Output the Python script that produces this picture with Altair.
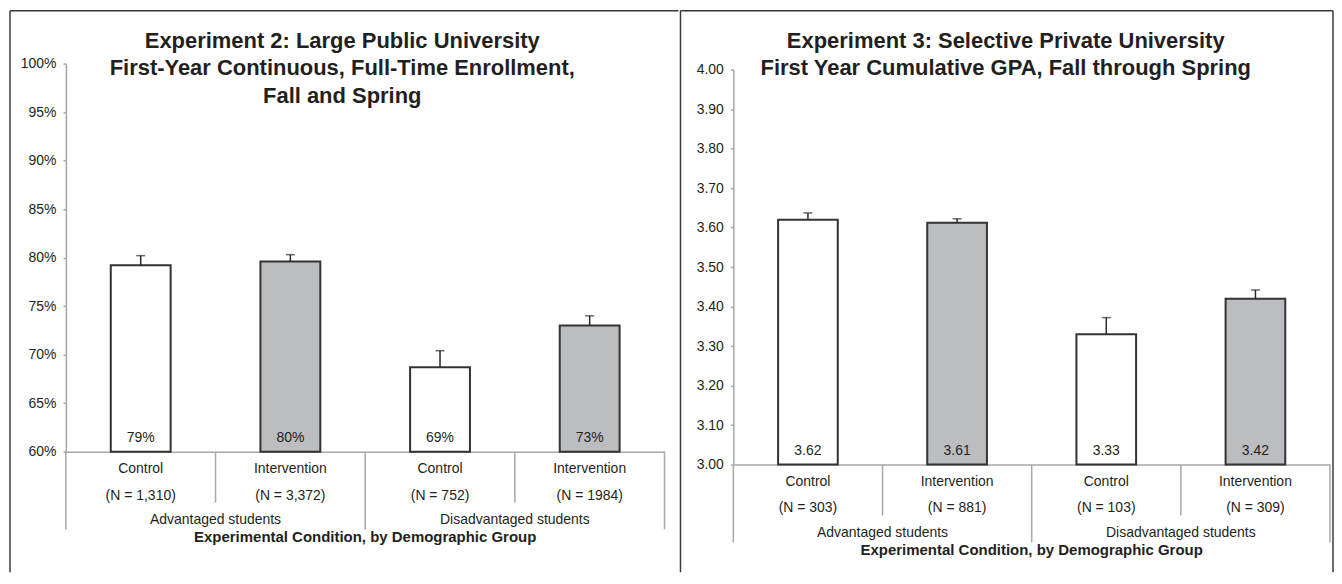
import altair as alt
import pandas as pd

FONT = "Liberation Sans"
INK = "#231f20"
GRID = "#a8a8a8"

conditions = ["Control", "Intervention", "Control", "Intervention"]
groups = ["Advantaged students", "Advantaged students",
          "Disadvantaged students", "Disadvantaged students"]
slots = ["A-Control", "A-Intervention", "D-Control", "D-Intervention"]

exp2_title = ["Experiment 2: Large Public University",
              "First-Year Continuous, Full-Time Enrollment,",
              "Fall and Spring"]
exp2_n = ["(N = 1,310)", "(N = 3,372)", "(N = 752)", "(N = 1984)"]
exp2_values = [79.2, 79.6, 68.7, 73.0]
exp2_upper = [80.2, 80.3, 70.4, 74.0]
exp2_labels = ["79%", "80%", "69%", "73%"]
exp2_ticks = [60, 65, 70, 75, 80, 85, 90, 95, 100]

exp3_title = ["Experiment 3: Selective Private University",
              "First Year Cumulative GPA, Fall through Spring"]
exp3_n = ["(N = 303)", "(N = 881)", "(N = 103)", "(N = 309)"]
exp3_values = [3.62, 3.612, 3.33, 3.42]
exp3_upper = [3.637, 3.622, 3.372, 3.442]
exp3_labels = ["3.62", "3.61", "3.33", "3.42"]
exp3_ticks = [3.0, 3.1, 3.2, 3.3, 3.4, 3.5, 3.6, 3.7, 3.8, 3.9, 4.0]

x_title = "Experimental Condition, by Demographic Group"


def panel(title_lines, values, upper, labels, ns, ticks, label_expr,
          width, height, y_top, title_dx, title_y, f_left, f_top, f_right,
          f_bottom, draw_right):
    df = pd.DataFrame({
        "slot": slots, "cond": conditions, "group": groups, "n": ns,
        "value": values, "upper": upper, "label": labels,
    })
    lo, hi = ticks[0], ticks[-1]
    xenc = alt.X("slot:N", sort=slots,
                 scale=alt.Scale(paddingInner=0, paddingOuter=0),
                 axis=alt.Axis(labels=False, ticks=False, title=None,
                               domainColor=GRID, domainWidth=1.5))
    yscale = alt.Scale(domain=[lo, hi], zero=False, nice=False,
                       range=[height, y_top])
    base = alt.Chart(df)

    bars = base.mark_bar(width=alt.RelativeBandSize(0.4), stroke="#333333",
                         strokeWidth=2).encode(
        x=xenc,
        y=alt.Y("value:Q", scale=yscale,
                axis=alt.Axis(values=ticks, tickCount=len(ticks) + 2,
                              labelExpr=label_expr, title=None,
                              grid=False, tickSize=3, tickColor=GRID,
                              tickWidth=1.5, domainColor=GRID, domainWidth=1.5,
                              labelFontSize=14, labelColor=INK, labelFont=FONT,
                              labelPadding=7, labelOverlap=False)),
        y2=alt.datum(lo),
        fill=alt.Fill("cond:N", scale=alt.Scale(domain=["Control", "Intervention"],
                                                range=["#ffffff", "#bcbdc1"]),
                      legend=None),
    )
    err = base.mark_rule(color="#2a2a2a", strokeWidth=1.5).encode(
        x=alt.X("slot:N", sort=slots), y="value:Q", y2="upper:Q")
    cap = base.mark_tick(color="#2a2a2a", size=9, thickness=1.5).encode(
        x=alt.X("slot:N", sort=slots), y="upper:Q")
    vlab = base.mark_text(fontSize=14, font=FONT, color=INK,
                          baseline="alphabetic").encode(
        x=alt.X("slot:N", sort=slots), y=alt.value(height - 10), text="label:N")
    clab = base.mark_text(fontSize=14, font=FONT, color=INK,
                          baseline="middle").encode(
        x=alt.X("slot:N", sort=slots), y=alt.value(height + 17), text="cond:N")
    nlab = base.mark_text(fontSize=14, font=FONT, color=INK,
                          baseline="middle").encode(
        x=alt.X("slot:N", sort=slots), y=alt.value(height + 44), text="n:N")
    glab = base.transform_filter(alt.datum.cond == "Intervention").mark_text(
        fontSize=14, font=FONT, color=INK, baseline="middle").encode(
        x=alt.X("slot:N", sort=slots, bandPosition=0),
        y=alt.value(height + 69), text="group:N")
    cdiv = base.transform_filter(alt.datum.cond == "Intervention").mark_rule(
        color=GRID, strokeWidth=1.5).encode(
        x=alt.X("slot:N", sort=slots, bandPosition=0),
        y=alt.value(height), y2=alt.value(height + 51))
    gdiv = base.transform_filter(alt.datum.cond == "Control").mark_rule(
        color=GRID, strokeWidth=1.5).encode(
        x=alt.X("slot:N", sort=slots, bandPosition=0),
        y=alt.value(height), y2=alt.value(height + 78))
    gend = base.transform_filter(alt.datum.slot == slots[-1]).mark_rule(
        color=GRID, strokeWidth=1.5).encode(
        x=alt.X("slot:N", sort=slots, bandPosition=1),
        y=alt.value(height), y2=alt.value(height + 78))

    one = alt.Chart(pd.DataFrame({"k": [0]}))
    xt = one.mark_text(text=x_title, fontSize=15, fontWeight="bold", font=FONT,
                       color=INK, baseline="middle").encode(
        x=alt.value(width / 2), y=alt.value(height + 86))
    tt = one.mark_text(text=title_lines, fontSize=22, fontWeight="bold",
                       font=FONT, color=INK, baseline="alphabetic",
                       lineHeight=27.5).encode(
        x=alt.value(width / 2 + title_dx), y=alt.value(title_y))
    fl = one.mark_rule(color="#3a3a3a", strokeWidth=1.5).encode(
        x=alt.value(f_left), y=alt.value(f_top), y2=alt.value(f_bottom))
    ft = one.mark_rule(color="#3a3a3a", strokeWidth=1.5).encode(
        x=alt.value(f_left), x2=alt.value(f_right), y=alt.value(f_top))
    layers = [fl, ft, cdiv, gdiv, gend, bars, err, cap, vlab, clab, nlab, glab,
              xt, tt]
    if draw_right:
        fr = one.mark_rule(color="#3a3a3a", strokeWidth=1.5).encode(
            x=alt.value(f_right), y=alt.value(f_top), y2=alt.value(f_bottom))
        layers.append(fr)
    return alt.layer(*layers).properties(width=width, height=height)


# both panels share the same row origin (page y ~71)
left = panel(exp2_title, exp2_values, exp2_upper, exp2_labels, exp2_n,
             exp2_ticks, "datum.value + '%'",
             width=600, height=383, y_top=-6, title_dx=-23, title_y=-21.7,
             f_left=-56, f_top=-59, f_right=614, f_bottom=504,
             draw_right=False)
right = panel(exp3_title, exp3_values, exp3_upper, exp3_labels, exp3_n,
              exp3_ticks, "format(datum.value, '.2f')",
              width=598, height=396, y_top=0, title_dx=-26, title_y=-21.7,
              f_left=-53, f_top=-59, f_right=601, f_bottom=504,
              draw_right=True)

chart = alt.hconcat(left, right, spacing=0).properties(
    padding={"left": 1, "top": 1, "right": 0, "bottom": 0}
).configure(font=FONT).configure_view(strokeWidth=0, stroke="transparent")

chart.save("out.html", embed_options={"renderer": "svg", "actions": False})
